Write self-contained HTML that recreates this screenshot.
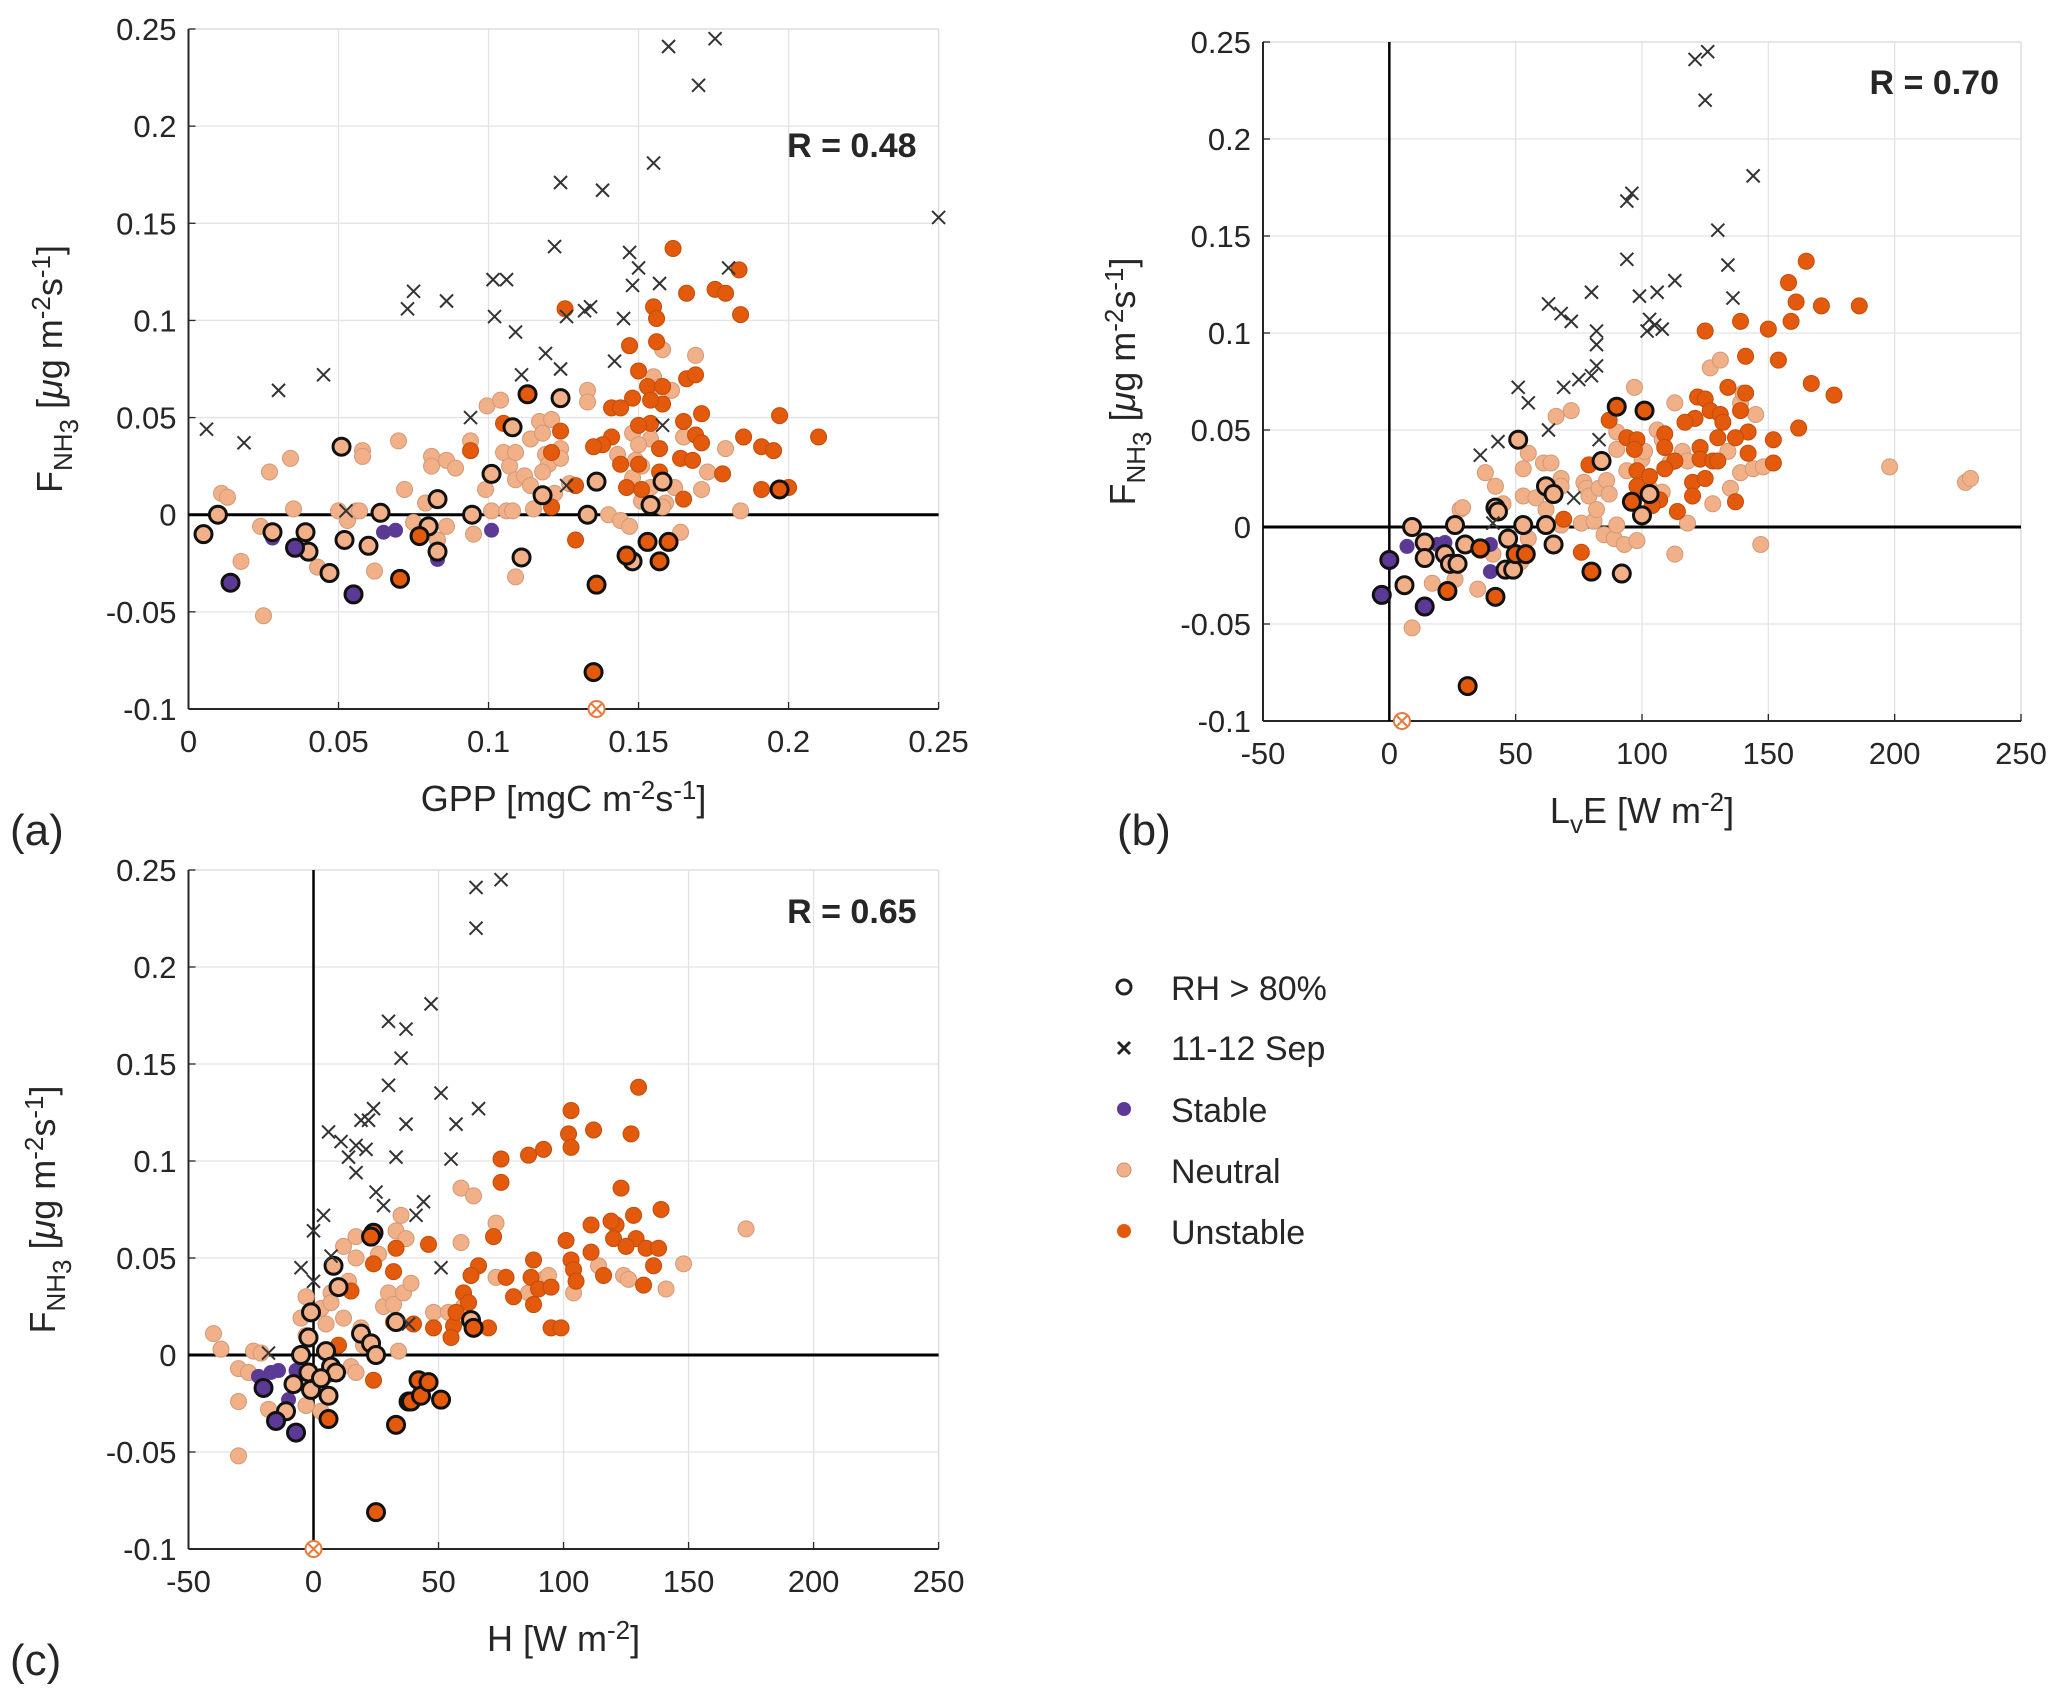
<!DOCTYPE html>
<html><head><meta charset="utf-8"><style>
html,body{margin:0;padding:0;background:#fff}
svg{display:block}
text{font-family:"Liberation Sans",Arial,sans-serif;fill:#262626}
</style></head><body>
<svg id="fig" width="2067" height="1697" viewBox="0 0 2067 1697" xmlns="http://www.w3.org/2000/svg">
<g id="pa"></g>
<g id="pb"></g>
<g id="pc"></g>
<g>
 <g><circle cx="1124" cy="987" r="7" fill="none" stroke="#222" stroke-width="3"/><text x="1171" y="1000" font-size="34">RH &gt; 80%</text></g>
 <g><path d="M1118,1042 L1130,1054 M1130,1042 L1118,1054" stroke="#222" stroke-width="3"/><text x="1171" y="1060" font-size="34">11-12 Sep</text></g>
 <g><circle cx="1124" cy="1109" r="7" fill="#5b3a96"/><text x="1171" y="1122" font-size="34">Stable</text></g>
 <g><circle cx="1124" cy="1170" r="7" fill="#f2b088" stroke="#c89070" stroke-width="1"/><text x="1171" y="1183" font-size="34">Neutral</text></g>
 <g><circle cx="1124" cy="1231" r="7" fill="#e35a0c"/><text x="1171" y="1244" font-size="34">Unstable</text></g>
</g>
</svg>
<script>
// ---------- Panel (a) data: [GPP, F] ----------
const aCross=[[.006,.044],[.0185,.037],[.030,.064],[.045,.072],[.073,.106],[.075,.115],[.086,.110],[.094,.050],[.1015,.121],[.106,.121],[.102,.102],[.109,.094],[.111,.072],[.119,.083],[.122,.138],[.124,.171],[.124,.075],[.126,.102],[.132,.105],[.134,.107],[.138,.167],[.142,.079],[.145,.101],[.147,.135],[.148,.118],[.150,.127],[.155,.181],[.157,.119],[.160,.241],[.170,.221],[.1755,.245],[.180,.127],[.25,.153],[.158,.046],[.0525,.002],[.126,.015]];
const aStable=[[.028,-.012],[.065,-.009],[.069,-.008],[.083,-.023],[.101,-.008]];
const aStableRH=[[.014,-.035],[.0355,-.017],[.055,-.041]];
const aUnstable=[[.1615,.137],[.1835,.126],[.166,.114],[.1755,.116],[.179,.114],[.184,.103],[.1255,.106],[.155,.107],[.156,.101],[.156,.089],[.147,.087],[.150,.074],[.166,.070],[.169,.072],[.153,.066],[.158,.066],[.148,.060],[.141,.055],[.144,.055],[.158,.057],[.154,.059],[.154,.047],[.171,.052],[.197,.051],[.165,.048],[.150,.046],[.124,.043],[.141,.040],[.169,.041],[.171,.037],[.185,.040],[.21,.040],[.138,.036],[.135,.035],[.157,.034],[.191,.035],[.195,.033],[.094,.033],[.121,.032],[.164,.029],[.168,.028],[.144,.026],[.150,.026],[.178,.021],[.157,.022],[.129,.015],[.146,.014],[.151,.013],[.191,.013],[.200,.014],[.165,.008],[.121,.004],[.129,-.013],[.105,.047]];
const aUnstableRH=[[.113,.062],[.077,-.011],[.0705,-.033],[.146,-.021],[.153,-.014],[.160,-.014],[.157,-.024],[.135,-.081],[.136,-.036],[.197,.013]];
const aNeutral=[[.011,.011],[.013,.009],[.0175,-.024],[.025,-.052],[.024,-.006],[.027,.022],[.034,.029],[.035,.003],[.043,-.027],[.050,.002],[.053,-.003],[.056,.002],[.058,.033],[.058,.030],[.062,-.029],[.057,.002],[.070,.038],[.072,.013],[.075,-.004],[.079,.006],[.081,.030],[.081,.025],[.083,-.013],[.086,.028],[.086,-.006],[.089,.024],[.094,.038],[.095,-.010],[.0995,.056],[.099,.013],[.101,.002],[.104,.059],[.106,.002],[.105,.032],[.107,.025],[.108,.002],[.109,.018],[.109,.032],[.109,-.032],[.112,.020],[.114,.039],[.115,.003],[.117,.048],[.118,.042],[.119,.031],[.120,.026],[.118,.022],[.114,.015],[.121,.049],[.122,.011],[.124,.034],[.124,.029],[.127,.016],[.133,.064],[.133,.058],[.136,.017],[.140,.000],[.143,.031],[.144,-.003],[.147,-.006],[.148,.042],[.149,.028],[.148,.019],[.151,.007],[.151,.025],[.154,.039],[.155,.071],[.157,.066],[.158,.085],[.159,.006],[.161,.064],[.162,.014],[.164,-.009],[.165,.040],[.169,.082],[.173,.022],[.171,.013],[.179,.034],[.184,.002],[.158,.004],[.150,.036],[.154,.014]];
const aNeutralRH=[[.005,-.010],[.0098,.000],[.028,-.009],[.039,-.009],[.040,-.019],[.047,-.030],[.051,.035],[.052,-.013],[.060,-.016],[.064,.001],[.080,-.006],[.083,.008],[.083,-.019],[.0945,.000],[.101,.021],[.108,.045],[.111,-.022],[.118,.010],[.124,.060],[.133,.000],[.136,.017],[.148,-.024],[.154,.005],[.158,.017]];
const aSpecial=[[.136,-.1]];
const aXTicks=[0,.05,.1,.15,.2,.25];
const aXTickLabels=["0","0.05","0.1","0.15","0.2","0.25"];

// ---------- Panel (b) data: [LvE, F] ----------
const bCross=[[36,.037],[43,.044],[51,.072],[55,.064],[63,.050],[63,.115],[68,.110],[72,.106],[69,.072],[73,.015],[75,.076],[80,.078],[82,.083],[82,.094],[82,.101],[80,.121],[83,.045],[94,.168],[96,.172],[94,.138],[99,.119],[103,.107],[102,.101],[106,.121],[105,.104],[108,.102],[113,.127],[121,.241],[126,.245],[125,.220],[130,.153],[134,.135],[136,.118],[144,.181],[41,.002]];
const bStable=[[7,-.010],[19,-.009],[22,-.008],[40,-.009],[40,-.023]];
const bStableRH=[[-3,-.035],[0,-.017],[14,-.041]];
const bUnstable=[[165,.137],[158,.126],[161,.116],[171,.114],[186,.114],[159,.106],[139,.106],[150,.102],[125,.101],[154,.086],[141,.088],[167,.074],[176,.068],[134,.072],[141,.069],[122,.067],[125,.066],[121,.056],[127,.060],[139,.060],[131,.058],[132,.054],[117,.054],[87,.055],[94,.046],[98,.045],[109,.048],[142,.049],[137,.046],[152,.045],[162,.051],[97,.040],[109,.041],[123,.041],[130,.046],[142,.038],[79,.032],[123,.035],[128,.034],[113,.034],[152,.033],[98,.029],[109,.030],[120,.023],[130,.034],[125,.025],[103,.026],[120,.016],[107,.014],[137,.013],[98,.021],[114,.008],[69,.004],[76,-.013],[36,-.012],[104,.011]];
const bUnstableRH=[[90,.062],[101,.060],[31,-.082],[42,-.036],[23,-.033],[36,-.011],[50,-.014],[54,-.014],[80,-.023],[96,.013]];
const bNeutral=[[9,-.052],[17,-.029],[28,.009],[29,.010],[26,-.027],[35,-.032],[38,.028],[42,.021],[41,-.014],[45,.012],[52,-.018],[53,.030],[53,.016],[55,-.006],[55,.038],[58,.015],[61,.033],[62,.009],[64,.033],[66,.057],[68,.025],[68,.021],[68,.001],[72,.060],[76,.002],[77,.023],[78,.020],[79,.016],[81,.003],[82,.009],[83,.020],[86,.024],[87,.017],[85,-.004],[89,-.006],[90,.001],[90,.040],[90,.049],[93,-.009],[94,.029],[98,-.007],[97,.072],[100,.035],[101,.039],[106,.050],[108,.045],[111,.033],[113,.064],[113,-.014],[116,.039],[118,.002],[118,.034],[127,.082],[131,.086],[128,.012],[135,.020],[134,.039],[139,.028],[139,.064],[140,.069],[145,.058],[144,.030],[148,.031],[147,-.009],[198,.031],[228,.023],[230,.025],[103,.020],[108,.018]];
const bNeutralRH=[[6,-.030],[9,.000],[14,-.008],[14,-.016],[22,-.014],[26,.001],[24,-.019],[27,-.019],[30,-.009],[42,.010],[43,.008],[47,-.006],[46,-.022],[49,-.022],[53,.001],[51,.045],[62,.001],[62,.021],[65,.017],[65,-.009],[84,.034],[92,-.024],[100,.006],[103,.017]];
const bSpecial=[[5,-.1]];
const bXTicks=[-50,0,50,100,150,200,250];
const bXTickLabels=["-50","0","50","100","150","200","250"];

// ---------- Panel (c) data: [H, F] ----------
const cCross=[[-5,.045],[0,.038],[0,.064],[4,.072],[7,.051],[-18,.001],[6,.115],[11,.110],[14,.102],[17,.094],[17,.108],[19,.121],[21,.106],[22,.121],[24,.127],[25,.084],[28,.077],[30,.172],[30,.139],[35,.153],[37,.168],[37,.119],[33,.102],[41,.072],[44,.079],[47,.181],[51,.135],[51,.045],[55,.101],[57,.119],[65,.241],[65,.220],[66,.127],[75,.245],[38,.016]];
const cStable=[[-22,-.011],[-17,-.009],[-14,-.008],[-10,-.023],[-7,-.008]];
const cStableRH=[[-20,-.017],[-15,-.034],[-7,-.040]];
const cUnstable=[[130,.138],[103,.126],[102,.114],[112,.116],[127,.114],[103,.107],[92,.106],[86,.103],[75,.101],[75,.089],[123,.086],[139,.075],[128,.072],[121,.067],[111,.067],[119,.069],[129,.060],[101,.059],[120,.060],[72,.061],[125,.056],[133,.055],[138,.055],[111,.053],[46,.057],[33,.055],[24,.047],[66,.046],[103,.049],[88,.049],[136,.046],[104,.044],[63,.041],[77,.040],[87,.040],[116,.041],[105,.038],[32,.043],[132,.036],[90,.034],[95,.035],[80,.030],[60,.032],[62,.027],[88,.026],[32,.017],[40,.016],[48,.014],[56,.015],[70,.014],[95,.014],[99,.014],[55,.009],[15,.033],[10,.005],[24,-.013],[6,-.010],[57,.022]];
const cUnstableRH=[[25,-.081],[33,-.036],[6,-.033],[39,-.024],[42,-.013],[43,-.021],[46,-.014],[51,-.023],[24,.063],[23,.061],[64,.014]];
const cNeutral=[[-40,.011],[-37,.003],[-30,-.007],[-30,-.024],[-30,-.052],[-26,-.009],[-24,.002],[-21,.001],[-18,-.028],[-5,.019],[-3,.030],[-3,.010],[-3,-.026],[3,.024],[5,.016],[7,.032],[7,.027],[10,.035],[12,.056],[12,.019],[14,.038],[15,-.006],[17,.050],[17,.061],[19,.014],[20,.005],[26,.052],[28,.025],[30,.032],[32,.026],[33,.064],[34,.002],[35,.072],[36,.032],[37,.060],[39,.037],[48,.022],[54,.022],[59,.058],[59,.086],[64,.082],[60,.025],[73,.068],[73,.040],[86,.032],[92,.039],[94,.041],[104,.032],[114,.046],[124,.041],[126,.039],[141,.034],[148,.047],[173,.065],[17,-.009],[3,-.029]];
const cNeutralRH=[[-11,-.029],[-8,-.015],[-5,.000],[-2,.009],[-1,.022],[-2,-.009],[-1,-.018],[5,.002],[7,-.006],[9,-.009],[6,-.021],[8,.046],[10,.035],[3,-.012],[19,.011],[23,.006],[25,.000],[33,.017],[38,-.024],[63,.018]];
const cSpecial=[[0,-.1]];
const cXTicks=[-50,0,50,100,150,200,250];
const cXTickLabels=["-50","0","50","100","150","200","250"];

const yTicks=[-0.1,-0.05,0,0.05,0.1,0.15,0.2,0.25];
const yTickLabels=["-0.1","-0.05","0","0.05","0.1","0.15","0.2","0.25"];

const NS="http://www.w3.org/2000/svg";
function mk(tag,attrs,parent){const e=document.createElementNS(NS,tag);for(const k in attrs)e.setAttribute(k,attrs[k]);parent.appendChild(e);return e;}

function drawPanel(g,cfg,d){
  const sx=v=>cfg.L+(v-cfg.xmin)/(cfg.xmax-cfg.xmin)*(cfg.R-cfg.L);
  const sy=v=>cfg.B-(v-cfg.ymin)/(cfg.ymax-cfg.ymin)*(cfg.B-cfg.T);
  cfg.xt.forEach((t,i)=>{
    const l=mk('line',{x1:sx(t),x2:sx(t),y1:cfg.T,y2:cfg.B,stroke:'#e3e3e3','stroke-width':1.3},g);
    
    
    const tx=mk('text',{x:sx(t),y:cfg.B+43,'font-size':31,'text-anchor':'middle'},g);
    tx.textContent=cfg.xl[i];
    
    
  });
  yTicks.forEach((t,i)=>{
    const l=mk('line',{x1:cfg.L,x2:cfg.R,y1:sy(t),y2:sy(t),stroke:'#e3e3e3','stroke-width':1.3},g);
    
    
    const tx=mk('text',{x:cfg.L-12,y:sy(t)+11,'font-size':31,'text-anchor':'end'},g);
    tx.textContent=yTickLabels[i];
    
    
  });
  mk('line',{x1:cfg.L,x2:cfg.R,y1:cfg.T,y2:cfg.T,stroke:'#dcdcdc','stroke-width':1.3},g);
  mk('line',{x1:cfg.R,x2:cfg.R,y1:cfg.T,y2:cfg.B,stroke:'#dcdcdc','stroke-width':1.3},g);
  const ax=mk('line',{x1:cfg.L,x2:cfg.L,y1:cfg.T,y2:cfg.B,stroke:'#262626','stroke-width':2},g);
  
  
  const bx=mk('line',{x1:cfg.L,x2:cfg.R,y1:cfg.B,y2:cfg.B,stroke:'#262626','stroke-width':2},g);
  
  
  cfg.xt.forEach(t=>mk('line',{x1:sx(t),x2:sx(t),y1:cfg.B,y2:cfg.B-7,stroke:'#262626','stroke-width':1.3},g));
  yTicks.forEach(t=>mk('line',{x1:cfg.L,x2:cfg.L+7,y1:sy(t),y2:sy(t),stroke:'#262626','stroke-width':1.3},g));
  const zh=mk('line',{x1:cfg.L,x2:cfg.R,y1:sy(0),y2:sy(0),stroke:'#000','stroke-width':3},g);
  
  
  if(cfg.vzero){
    const zv=mk('line',{x1:sx(0),x2:sx(0),y1:cfg.T,y2:cfg.B,stroke:'#000','stroke-width':2.5},g);
    
    
  }
  const dots=(arr,fill,stroke,sw,r,name)=>arr.forEach(p=>{
    const c=mk('circle',{cx:sx(p[0]),cy:sy(p[1]),r:r,fill:fill,stroke:stroke,'stroke-width':sw},g);
    
    
  });
  dots(d.neutral,'#f2b088','#d09a78',1,8,'neutral-point');
  dots(d.unstable,'#e35a0c','#c24c0a',1,8,'unstable-point');
  dots(d.stable,'#5b3a96','#5b3a96',1,7,'stable-point');
  dots(d.neutralRH,'#f2b088','#111',3,8.5,'neutral-rh-point');
  dots(d.unstableRH,'#e35a0c','#111',3,8.5,'unstable-rh-point');
  dots(d.stableRH,'#5b3a96','#111',3,8.5,'stable-rh-point');
  d.cross.forEach(p=>{
    const x=sx(p[0]),y=sy(p[1]),s=6.5;
    const c=mk('path',{d:`M${x-s},${y-s}L${x+s},${y+s}M${x+s},${y-s}L${x-s},${y+s}`,stroke:'#333','stroke-width':2},g);
    
    
  });
  d.special.forEach(p=>{
    const x=sx(p[0]),y=sy(p[1]),s=5;
    const c=mk('circle',{cx:x,cy:y,r:8,fill:'#fff',stroke:'#e87a3c','stroke-width':2},g);
    
    
    mk('path',{d:`M${x-s},${y-s}L${x+s},${y+s}M${x+s},${y-s}L${x-s},${y+s}`,stroke:'#e87a3c','stroke-width':2},g);
  });
  const r=mk('text',{x:cfg.R-22,y:cfg.rY,'font-size':34,'font-weight':'bold','text-anchor':'end',fill:'#000'},g);
  r.textContent=cfg.rText;
  
  
  const cy=(cfg.T+cfg.B)/2;
  const yl=mk('text',{transform:`translate(${cfg.ylx},${cy}) rotate(-90)`,'font-size':36,'text-anchor':'middle'},g);
  yl.innerHTML='F<tspan font-size="26" dy="10">NH</tspan><tspan font-size="26" dy="6">3</tspan><tspan dy="-16">  [</tspan><tspan font-style="italic">μ</tspan>g m<tspan font-size="26" dy="-12">-2</tspan><tspan dy="12">s</tspan><tspan font-size="26" dy="-12">-1</tspan><tspan dy="12">]</tspan>';
  
  
  const xl=mk('text',{x:(cfg.L+cfg.R)/2,y:cfg.B+102,'font-size':36,'text-anchor':'middle'},g);
  xl.innerHTML=cfg.xlabel;
  
  
  const pl=mk('text',{x:cfg.px,y:cfg.py,'font-size':44,fill:'#000'},g);
  pl.textContent=cfg.plabel;
  
  
}

drawPanel(document.getElementById('pa'),
 {L:188.5,R:938.6,T:29,B:709,xmin:0,xmax:0.25,ymin:-0.1,ymax:0.25,xt:aXTicks,xl:aXTickLabels,vzero:false,
  rText:'R = 0.48',rY:157,ylx:62,xlabel:'GPP [mgC m<tspan font-size="26" dy="-12">-2</tspan><tspan dy="12">s</tspan><tspan font-size="26" dy="-12">-1</tspan><tspan dy="12">]</tspan>',px:10,py:845,plabel:'(a)'},
 {cross:aCross,stable:aStable,stableRH:aStableRH,unstable:aUnstable,unstableRH:aUnstableRH,neutral:aNeutral,neutralRH:aNeutralRH,special:aSpecial});
drawPanel(document.getElementById('pb'),
 {L:1263,R:2021,T:42,B:721,xmin:-50,xmax:250,ymin:-0.1,ymax:0.25,xt:bXTicks,xl:bXTickLabels,vzero:true,
  rText:'R = 0.70',rY:94,ylx:1135,xlabel:'L<tspan font-size="26" dy="10">v</tspan><tspan dy="-10">E [W m</tspan><tspan font-size="26" dy="-12">-2</tspan><tspan dy="12">]</tspan>',px:1117,py:845,plabel:'(b)'},
 {cross:bCross,stable:bStable,stableRH:bStableRH,unstable:bUnstable,unstableRH:bUnstableRH,neutral:bNeutral,neutralRH:bNeutralRH,special:bSpecial});
drawPanel(document.getElementById('pc'),
 {L:188.5,R:938.6,T:870,B:1549,xmin:-50,xmax:250,ymin:-0.1,ymax:0.25,xt:cXTicks,xl:cXTickLabels,vzero:true,
  rText:'R = 0.65',rY:923,ylx:55,xlabel:'H [W m<tspan font-size="26" dy="-12">-2</tspan><tspan dy="12">]</tspan>',px:10,py:1675,plabel:'(c)'},
 {cross:cCross,stable:cStable,stableRH:cStableRH,unstable:cUnstable,unstableRH:cUnstableRH,neutral:cNeutral,neutralRH:cNeutralRH,special:cSpecial});
</script>
</body></html>
